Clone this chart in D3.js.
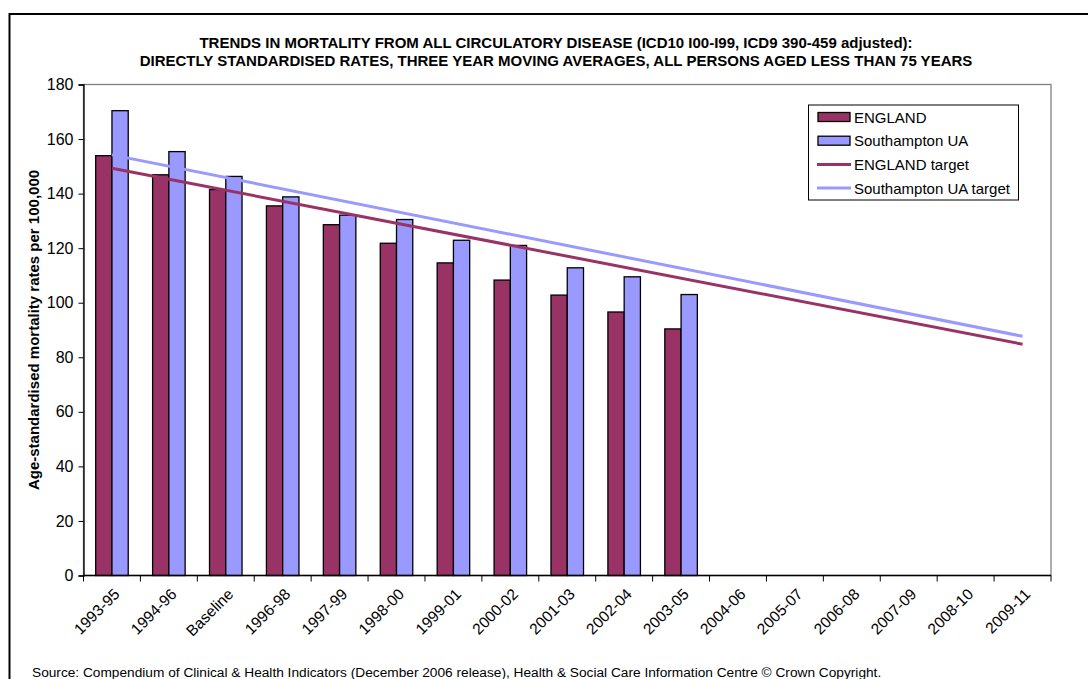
<!DOCTYPE html>
<html><head><meta charset="utf-8">
<script src="https://cdn.jsdelivr.net/npm/d3@7"></script>
<style>body{margin:0;background:#fff;} svg{display:block;font-family:"Liberation Sans",Arial,sans-serif;}</style>
</head><body>
<svg id="c" width="1088" height="679"></svg>
<script>
const categories = ["1993-95","1994-96","Baseline","1996-98","1997-99","1998-00","1999-01","2000-02","2001-03","2002-04","2003-05","2004-06","2005-07","2006-08","2007-09","2008-10","2009-11"];
const englandValues = [153.9,146.9,141.5,135.5,128.6,121.8,114.6,108.3,102.8,96.6,90.4];
const southamptonValues = [170.4,155.4,146.3,138.8,132.1,130.5,122.9,121.0,112.8,109.5,103.0];
const englandTarget = [{cat:"1993-95", v:149.3},{cat:"2009-11", v:84.8}];
const southamptonTarget = [{cat:"1993-95", v:154.2},{cat:"2009-11", v:87.7}];
const yTicks = [0,20,40,60,80,100,120,140,160,180];
const titleLines = ["TRENDS IN MORTALITY FROM ALL CIRCULATORY DISEASE (ICD10 I00-I99, ICD9 390-459 adjusted):","DIRECTLY STANDARDISED RATES, THREE YEAR MOVING AVERAGES, ALL PERSONS AGED LESS THAN 75 YEARS"];
const yLabel = "Age-standardised mortality rates per 100,000";
const sourceText = "Source: Compendium of Clinical & Health Indicators (December 2006 release), Health & Social Care Information Centre \u00A9 Crown Copyright.";
const legendItems = [
  {name:"ENGLAND", type:"bar", color:"#993366"},
  {name:"Southampton UA", type:"bar", color:"#9999FF"},
  {name:"ENGLAND target", type:"line", color:"#993366"},
  {name:"Southampton UA target", type:"line", color:"#9999FF"}
];

const FONT = "Liberation Sans, Arial, sans-serif";
const svg = d3.select("#c");
const L = 83.5, R = 1051, T = 84.5, B = 575.5;

// outer border
svg.append("rect").attr("x",9.5).attr("y",14).attr("width",1100).attr("height",700)
  .attr("fill","none").attr("stroke","#000").attr("stroke-width",2);

const x = d3.scaleBand().domain(categories).range([L,R]).paddingInner(0).paddingOuter(0);
const y = d3.scaleLinear().domain([0,180]).range([B,T]);
const bw = x.bandwidth();
const barW = bw/3.5;
const gap = (bw - 2*barW)/2;

// plot area border (grey)
svg.append("rect").attr("x",L).attr("y",T).attr("width",R-L).attr("height",B-T)
  .attr("fill","none").attr("stroke","#808080").attr("stroke-width",1.3);

// bars
const g = svg.append("g");
g.selectAll("rect.e").data(englandValues).enter().append("rect")
  .attr("x",(d,i)=>x(categories[i])+gap).attr("y",d=>y(d))
  .attr("width",barW).attr("height",d=>B-y(d))
  .attr("fill","#993366").attr("stroke","#000").attr("stroke-width",1.3);
g.selectAll("rect.s").data(southamptonValues).enter().append("rect")
  .attr("x",(d,i)=>x(categories[i])+gap+barW).attr("y",d=>y(d))
  .attr("width",barW).attr("height",d=>B-y(d))
  .attr("fill","#9999FF").attr("stroke","#000").attr("stroke-width",1.3);

// axes
const yAxis = d3.axisLeft(y).tickValues(yTicks).tickSize(5).tickPadding(5).tickFormat(d3.format("d"));
const ya = svg.append("g").attr("transform",`translate(${L},0)`).call(yAxis);
ya.select(".domain").attr("stroke","#000").attr("stroke-width",1.3);
ya.selectAll(".tick line").attr("stroke","#000");
ya.selectAll(".tick text").attr("font-size",16).attr("fill","#000").attr("font-family",FONT);

const xa = svg.append("g").attr("transform",`translate(0,${B})`);
xa.append("line").attr("x1",L).attr("x2",R).attr("y1",0).attr("y2",0).attr("stroke","#000").attr("stroke-width",1.3);
const bounds = categories.map(c=>x(c)).concat([R]);
xa.selectAll("line.t").data(bounds).enter().append("line")
  .attr("x1",d=>d).attr("x2",d=>d).attr("y1",0).attr("y2",6).attr("stroke","#000");
xa.selectAll("text").data(categories).enter().append("text")
  .attr("transform",d=>`translate(${x(d)+bw/2+1},${12}) rotate(-45)`)
  .attr("text-anchor","end").attr("dy","0.7em").attr("font-size",15.5).attr("fill","#000")
  .attr("font-family",FONT).text(d=>d);

// target lines
const line = d3.line().x(d=>x(d.cat)+bw/2).y(d=>y(d.v));
svg.append("path").datum(southamptonTarget).attr("d",line).attr("fill","none").attr("stroke","#9999FF").attr("stroke-width",3);
svg.append("path").datum(englandTarget).attr("d",line).attr("fill","none").attr("stroke","#993366").attr("stroke-width",3);

// title
svg.append("g").selectAll("text").data(titleLines).enter().append("text")
  .attr("x",556).attr("y",(d,i)=>47.5+i*18).attr("text-anchor","middle")
  .attr("font-size",15).attr("font-weight","bold").text(d=>d);

// y label
svg.append("text").attr("transform",`translate(38.5,330) rotate(-90)`).attr("text-anchor","middle")
  .attr("font-size",15).attr("font-weight","bold").text(yLabel);

// legend
const lg = svg.append("g");
lg.append("rect").attr("x",808.5).attr("y",105).attr("width",210).attr("height",95)
  .attr("fill","#fff").attr("stroke","#000").attr("stroke-width",1);
legendItems.forEach((it,i)=>{
  const cy = 117 + i*23.7;
  if(it.type==="bar"){
    lg.append("rect").attr("x",818).attr("y",cy-4.5).attr("width",32).attr("height",9)
      .attr("fill",it.color).attr("stroke","#000").attr("stroke-width",1.3);
  } else {
    lg.append("line").attr("x1",817).attr("x2",851).attr("y1",cy).attr("y2",cy)
      .attr("stroke",it.color).attr("stroke-width",3);
  }
  lg.append("text").attr("x",854).attr("y",cy+5.5).attr("font-size",15).text(it.name);
});

// source
svg.append("text").attr("x",32).attr("y",677).attr("font-size",13.7).text(sourceText);
</script>
</body></html>
